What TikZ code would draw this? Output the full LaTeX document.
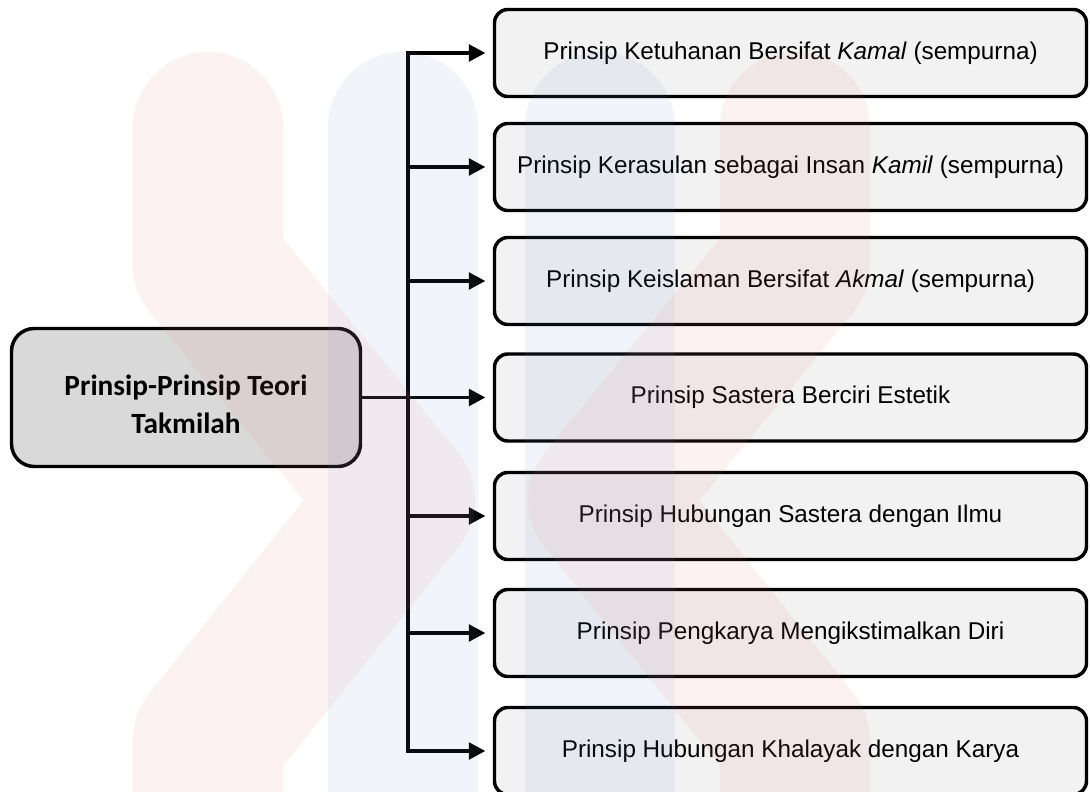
\documentclass[tikz,border=0pt]{standalone}
\usepackage{fontspec}
\setmainfont{Liberation Sans}
\newfontfamily\calibri{Carlito}
\usetikzlibrary{arrows.meta}
\definecolor{boxfill}{HTML}{F2F2F2}
\definecolor{mainfill}{HTML}{D9D9D9}
\definecolor{wmpink}{RGB}{230,120,120}
\definecolor{wmblue}{RGB}{100,150,190}
\tikzset{
 px/.style={x=0.75pt,y=-0.75pt},
 itembox/.style={draw=black, line width=2.6pt, fill=boxfill, rounded corners=10pt,
   minimum width=444pt, minimum height=65.25pt, inner sep=0pt,
   font=\fontsize{18.2}{22}\selectfont, align=center},
 mainbox/.style={draw=black, line width=2.6pt, fill=mainfill, rounded corners=17pt,
   minimum width=261.75pt, minimum height=103.5pt, inner sep=0pt},
 maintext/.style={inner sep=0pt, align=center,
   font=\calibri\bfseries\fontsize{22}{28.5}\selectfont},
 conn/.style={line width=2.8pt, draw=black},
 arrowtip/.style={-{Triangle[length=12.5pt,width=12.5pt]}, shorten >=5.5pt},
 wm/.style={line width=112.5pt, line cap=round, line join=round, opacity=0.09},
}
\begin{document}
\begin{tikzpicture}[px]
\useasboundingbox (0,0) rectangle (1090,792);
\fill[white] (0,0) rectangle (1090,792);
\node[mainbox] (main) at (186,397.5) {};
\node[maintext] (mainlabel) at (186,404) {Prinsip-Prinsip Teori\\Takmilah};
\node[itembox] (b1) at (790.5,53) {Prinsip Ketuhanan Bersifat \textit{Kamal} (sempurna)};
\node[itembox] (b2) at (790.5,167) {Prinsip Kerasulan sebagai Insan \textit{Kamil} (sempurna)};
\node[itembox] (b3) at (790.5,281) {Prinsip Keislaman Bersifat \textit{Akmal} (sempurna)};
\node[itembox] (b4) at (790.5,397.5) {Prinsip Sastera Berciri Estetik};
\node[itembox] (b5) at (790.5,516) {Prinsip Hubungan Sastera dengan Ilmu};
\node[itembox] (b6) at (790.5,633) {Prinsip Pengkarya Mengikstimalkan Diri};
\node[itembox] (b7) at (790.5,751) {Prinsip Hubungan Khalayak dengan Karya};
\coordinate (t1) at (408,53);
\coordinate (t2) at (408,167);
\coordinate (t3) at (408,281);
\coordinate (t5) at (408,516);
\coordinate (t6) at (408,633);
\coordinate (t7) at (408,751);
\draw[conn, {Triangle[length=12.5pt,width=12.5pt]}-{Triangle[length=12.5pt,width=12.5pt]}, shorten <=5.5pt, shorten >=5.5pt]
  (b1.west) -- (t1) -- (t7) -- (b7.west);
\draw[conn, arrowtip] (main.east) -- (b4.west);
\draw[conn, arrowtip] (t2) -- (b2.west);
\draw[conn, arrowtip] (t3) -- (b3.west);
\draw[conn, arrowtip] (t5) -- (b5.west);
\draw[conn, arrowtip] (t6) -- (b6.west);
\begin{scope}
\clip (0,0) rectangle (1090,792);
\draw[wm, wmblue] (403,127) -- (403,900);
\draw[wm, wmblue] (600,127) -- (600,900);
\draw[wm, wmpink] (208,127) -- (208,265) -- (400,500) -- (208,740) -- (208,900);
\draw[wm, wmpink] (795,127) -- (795,265) -- (603,500) -- (795,740) -- (795,900);
\end{scope}
\end{tikzpicture}
\end{document}
